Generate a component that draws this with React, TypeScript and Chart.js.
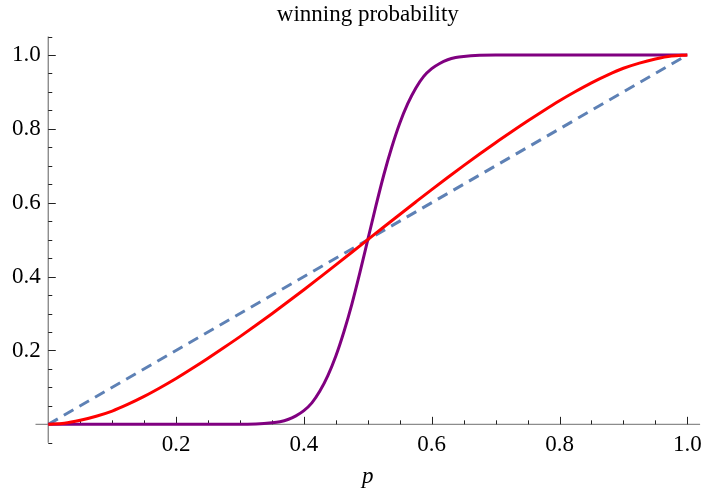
import React, { useEffect, useRef } from 'react';
import { Chart, registerables } from 'chart.js';

Chart.register(...registerables);

// ---- data ----
const pValues = [
  0, 0.025, 0.05, 0.075, 0.1, 0.125, 0.15, 0.175, 0.2, 0.225, 0.25, 0.275, 0.3, 0.325, 0.35, 0.375, 0.4,
  0.425, 0.45, 0.475, 0.5, 0.525, 0.55, 0.575, 0.6, 0.625, 0.65, 0.675, 0.7, 0.725, 0.75, 0.775, 0.8,
  0.825, 0.85, 0.875, 0.9, 0.925, 0.95, 0.975, 1,
];
const redValues = [
  0, 0.003, 0.011, 0.022, 0.036, 0.0545, 0.0755, 0.099, 0.124, 0.151, 0.179, 0.208, 0.2375, 0.268, 0.2995, 0.3317, 0.3645,
  0.398, 0.4318, 0.4658, 0.5, 0.5342, 0.5682, 0.602, 0.6355, 0.6683, 0.7005, 0.732, 0.7625, 0.792, 0.821, 0.849, 0.876,
  0.901, 0.9245, 0.9455, 0.964, 0.978, 0.989, 0.997, 1,
];
const purpleP = [
  0, 0.1, 0.2, 0.3, 0.325, 0.35, 0.3625, 0.375, 0.3875, 0.4, 0.4125, 0.425, 0.4375, 0.45, 0.4625, 0.475, 0.4875,
  0.5, 0.5125, 0.525, 0.5375, 0.55, 0.5625, 0.575, 0.5875, 0.6, 0.6125, 0.625, 0.6375, 0.65, 0.675, 0.7, 0.8, 0.9, 1,
];
const purpleValues = [
  0, 0, 0, 0.0005, 0.001, 0.004, 0.007, 0.013, 0.023, 0.037, 0.058, 0.09, 0.132, 0.185, 0.25, 0.325, 0.41,
  0.5, 0.59, 0.675, 0.75, 0.815, 0.868, 0.91, 0.942, 0.963, 0.977, 0.987, 0.993, 0.996, 0.999, 1, 1, 1, 1,
];
const diagonalX = [0, 1];
const diagonalY = [0, 1];

const majorTickValues = [0.2, 0.4, 0.6, 0.8, 1.0];
const xTickLabels = ['0.2', '0.4', '0.6', '0.8', '1.0'];
const yTickLabels = ['0.2', '0.4', '0.6', '0.8', '1.0'];

const chartTitle = 'winning probability';
const xAxisTitle = 'p';

const FONT = "'Liberation Serif', 'Times New Roman', serif";

const majorIndex = (v: number) => majorTickValues.findIndex((m) => Math.abs(m - v) < 1e-6);

const axesPlugin = {
  id: 'mmaAxes',
  beforeDatasetsDraw(chart: any) {
    const { ctx } = chart;
    const xs = chart.scales.x;
    const ys = chart.scales.y;
    const x0 = xs.getPixelForValue(0);
    const y0 = ys.getPixelForValue(0);
    ctx.save();
    ctx.strokeStyle = '#8c8c8c';
    ctx.lineWidth = 1.4;
    ctx.beginPath();
    ctx.moveTo(xs.left, y0);
    ctx.lineTo(xs.right, y0);
    ctx.stroke();
    ctx.beginPath();
    ctx.moveTo(x0, ys.top);
    ctx.lineTo(x0, ys.bottom);
    ctx.stroke();

    ctx.lineWidth = 1;
    ctx.strokeStyle = '#222222';
    xs.ticks.forEach((t: any) => {
      if (Math.abs(t.value) < 1e-9) return;
      const px = Math.round(xs.getPixelForValue(t.value)) + 0.5;
      const len = majorIndex(t.value) >= 0 ? 7.5 : 4;
      ctx.beginPath();
      ctx.moveTo(px, y0);
      ctx.lineTo(px, y0 - len);
      ctx.stroke();
    });
    ys.ticks.forEach((t: any) => {
      if (Math.abs(t.value) < 1e-9) return;
      const py = Math.round(ys.getPixelForValue(t.value)) + 0.5;
      const len = majorIndex(t.value) >= 0 ? 7.5 : 4;
      ctx.beginPath();
      ctx.moveTo(x0, py);
      ctx.lineTo(x0 + len, py);
      ctx.stroke();
    });
    ctx.restore();
  },
};

export default function App() {
  const canvasRef = useRef<HTMLCanvasElement | null>(null);

  useEffect(() => {
    if (!canvasRef.current) return;
    const chart = new Chart(canvasRef.current, {
      type: 'line',
      data: {
        datasets: [
          {
            label: 'red',
            data: pValues.map((p, i) => ({ x: p, y: redValues[i] })),
            borderColor: '#FF0000',
            borderWidth: 3,
            pointRadius: 0,
            cubicInterpolationMode: 'monotone',
            fill: false,
            order: 0,
          },
          {
            label: 'purple',
            data: purpleP.map((p, i) => ({ x: p, y: purpleValues[i] })),
            borderColor: '#800080',
            borderWidth: 3,
            pointRadius: 0,
            cubicInterpolationMode: 'monotone',
            fill: false,
            order: 1,
          },
          {
            label: 'diagonal',
            data: diagonalX.map((p, i) => ({ x: p, y: diagonalY[i] })),
            borderColor: '#5E81B5',
            borderWidth: 3,
            borderDash: [11, 7],
            pointRadius: 0,
            fill: false,
            order: 2,
          },
        ],
      },
      options: {
        responsive: false,
        animation: false,
        layout: { padding: { left: 0, right: 2.9, top: 0, bottom: 0 } },
        plugins: {
          legend: { display: false },
          tooltip: { enabled: false },
          title: {
            display: true,
            text: chartTitle,
            fullSize: false,
            color: '#000000',
            font: { family: FONT, size: 23, weight: 'normal' },
            padding: { top: 1.1, bottom: 7.8 },
          },
        },
        scales: {
          x: {
            type: 'linear',
            position: 'bottom',
            min: -0.02,
            max: 1.02,
            grid: { display: false, drawTicks: false },
            border: { display: false },
            ticks: {
              stepSize: 0.05,
              includeBounds: false,
              autoSkip: false,
              maxRotation: 0,
              minRotation: 0,
              padding: -11.6,
              color: '#000000',
              font: { family: FONT, size: 23 },
              callback: (v: any) => {
                const i = majorIndex(Number(v));
                return i >= 0 ? xTickLabels[i] : '';
              },
            },
            title: {
              display: true,
              text: xAxisTitle,
              color: '#000000',
              font: { family: FONT, size: 23, style: 'italic' },
              padding: { top: 0, bottom: 1 },
            },
            afterFit: (scale: any) => {
              scale.height = 49.2;
              scale.paddingLeft = 0;
              scale.paddingRight = 0;
              scale._computeLabelArea = () => undefined;
            },
          },
          y: {
            type: 'linear',
            position: 'left',
            min: -0.05,
            max: 1.05,
            grid: { display: false, drawTicks: false },
            border: { display: false },
            ticks: {
              stepSize: 0.05,
              autoSkip: false,
              padding: -5.2,
              color: '#000000',
              font: { family: FONT, size: 23 },
              callback: (v: any) => {
                const i = majorIndex(Number(v));
                return i >= 0 ? yTickLabels[i] : '';
              },
            },
            afterFit: (scale: any) => {
              scale.width = 35.5;
              scale.paddingTop = 0;
              scale.paddingBottom = 0;
              scale._computeLabelArea = () => undefined;
            },
          },
        },
      },
      plugins: [axesPlugin],
    } as any);
    return () => chart.destroy();
  }, []);

  return (
    <div style={{ position: 'absolute', left: 0, top: 0, width: 703, height: 492, background: '#ffffff' }}>
      <canvas ref={canvasRef} width={703} height={492} style={{ display: 'block' }} />
    </div>
  );
}
